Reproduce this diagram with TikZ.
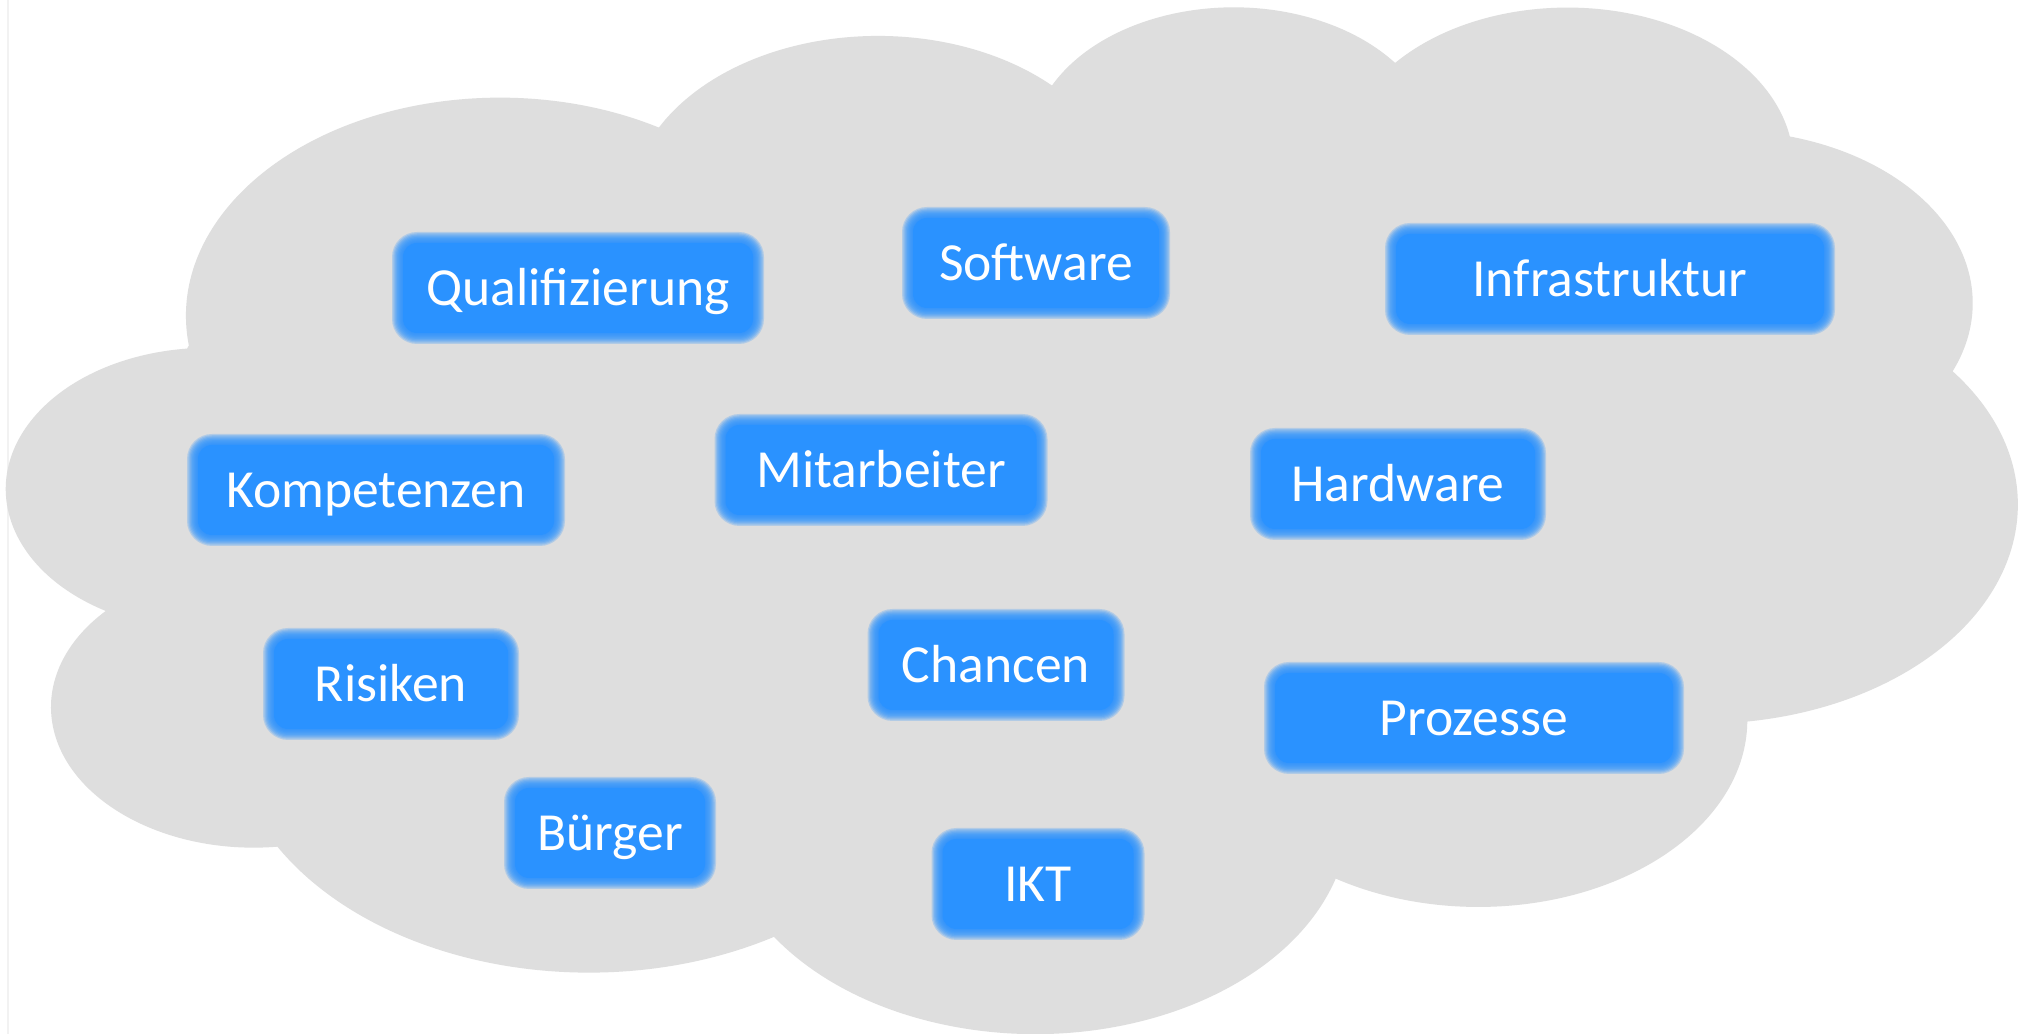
\documentclass[tikz,border=0pt]{standalone}
\usepackage{fontspec}
\setmainfont{Carlito}

\definecolor{cloudgray}{RGB}{222,222,222}
\definecolor{boxblue}{RGB}{42,146,255}
\definecolor{edgeline}{RGB}{242,242,242}

% Cloud outline: arcs given as (radius x, radius y, visual start angle, sweep).
% The visual angles are turned into the parametric angles that TikZ arcs use.
\newcommand\cldangles[5]{%
  \pgfmathsetmacro\cldtmpa{atan2((#2)*sin(#4),(#3)*cos(#4))}%
  \pgfmathsetmacro\cldtmpb{atan2((#2)*sin((#4)+(#5)),(#3)*cos((#4)+(#5)))}%
  \pgfmathsetmacro\cldtmpb{(\cldtmpa)+mod((\cldtmpb)-(\cldtmpa)+720,360)}%
  \expandafter\xdef\csname cldS#1\endcsname{\cldtmpa}%
  \expandafter\xdef\csname cldE#1\endcsname{\cldtmpb}%
}
\newcommand\cldarc[3]{arc[start angle=\csname cldS#1\endcsname,
  end angle=\csname cldE#1\endcsname, x radius=#2pt, y radius=#3pt]}

% Soft-edged label box: translucent rings, a solid core, and the label node.
\newcommand\tagbox[6]{%
  \foreach \o in {1,-0.25,-1.5,-2.75,-4,-5.25,-6.5,-7.75,-9}{%
    \pgfmathsetmacro\tagrad{(24+(\o))*0.25}%
    \fill[tagfade, rounded corners=\tagrad pt]
      ({#2-#4/2-(\o)},{#3-#5/2-(\o)}) rectangle ({#2+#4/2+(\o)},{#3+#5/2+(\o)});
  }%
  \fill[tagcore] ({#2-#4/2+10},{#3-#5/2+10}) rectangle ({#2+#4/2-10},{#3+#5/2-10});
  \node[tagtext] (#1) at (#2,{#3+18}) {#6};
}

\begin{document}
\begin{tikzpicture}[x=0.25pt, y=-0.25pt,
  tagfade/.style={fill=boxblue, fill opacity=0.24},
  tagcore/.style={fill=boxblue, rounded corners=3.5pt},
  tagtext/.style={text=white, font=\fontsize{13.4pt}{15pt}\selectfont,
    anchor=base, inner sep=0pt}]
\useasboundingbox (0,0) rectangle (2018,1034);
\fill[white] (0,0) rectangle (2018,1034);
\draw[edgeline, line width=0.5pt] (8,0) -- (8,1034);

\cldangles{a}{6.753}{9.190}{-190.48748}{123.78053}
\cldangles{b}{5.333}{7.267}{-144.10238}{89.94523}
\cldangles{c}{4.365}{5.945}{-145.80792}{99.72302}
\cldangles{d}{4.857}{6.595}{-130.98607}{117.24173}
\cldangles{e}{5.333}{7.273}{-78.70888}{109.02692}
\cldangles{f}{6.775}{9.220}{-46.26725}{130.26900}
\cldangles{g}{5.785}{7.867}{0.62502}{114.03333}
\cldangles{h}{6.752}{9.215}{22.4516}{115.17255}
\cldangles{i}{7.720}{10.543}{66.24263}{75.71102}
\cldangles{j}{4.360}{5.918}{-274.94208}{146.73557}
\cldangles{k}{4.345}{5.945}{-246.8285}{152.51885}

\begin{scope}[shift={(7.42,4.0)}, xscale=11.6295, yscale=-5.9395]
  \fill[cloudgray] (3.9pt,14.37pt)
    \cldarc{a}{6.753}{9.190}
    \cldarc{b}{5.333}{7.267}
    \cldarc{c}{4.365}{5.945}
    \cldarc{d}{4.857}{6.595}
    \cldarc{e}{5.333}{7.273}
    \cldarc{f}{6.775}{9.220}
    \cldarc{g}{5.785}{7.867}
    \cldarc{h}{6.752}{9.215}
    \cldarc{i}{7.720}{10.543}
    \cldarc{j}{4.360}{5.918}
    \cldarc{k}{4.345}{5.945}
    -- cycle;
\end{scope}

\tagbox{qual}{578}{288}{370}{110}{Qualifizierung}
\tagbox{soft}{1036}{263}{266}{110}{Software}
\tagbox{infra}{1610}{279}{448}{110}{Infrastruktur}
\tagbox{komp}{376}{490}{376}{110}{Kompetenzen}
\tagbox{mitarb}{881}{470}{331}{110}{Mitarbeiter}
\tagbox{hard}{1398}{484}{294}{110}{Hardware}
\tagbox{risk}{391}{684}{254}{110}{Risiken}
\tagbox{chance}{996}{665}{255}{110}{Chancen}
\tagbox{proz}{1474}{718}{418}{110}{Prozesse}
\tagbox{buerger}{610}{833}{210}{110}{Bürger}
\tagbox{ikt}{1038}{884}{211}{110}{IKT}
\end{tikzpicture}
\end{document}
